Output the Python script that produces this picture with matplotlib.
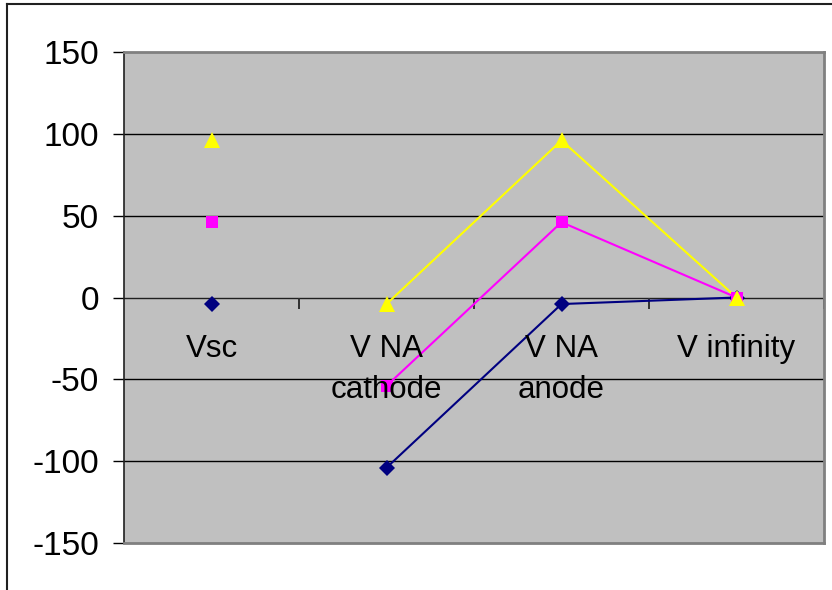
import matplotlib
matplotlib.use("Agg")
import matplotlib.pyplot as plt
from matplotlib.lines import Line2D
from matplotlib.ticker import FuncFormatter

categories = ["Vsc", "V NA\ncathode", "V NA\nanode", "V infinity"]
series_navy = [-4, -104, -4, 0]
series_magenta = [46, -54, 46, 0]
series_yellow = [96, -4, 96, 0]
y_ticks = [-150, -100, -50, 0, 50, 100, 150]

plt.rcParams["font.family"] = ["Liberation Sans", "DejaVu Sans"]

fig = plt.figure(figsize=(8.32, 5.90), dpi=100)
ax = fig.add_axes([124 / 832, 1 - 543 / 590, 700 / 832, 491 / 590])
ax.set_facecolor("#c0c0c0")

x = list(range(len(categories)))

# horizontal gridlines
for v in y_ticks[1:-1]:
    if v != 0:
        ax.axhline(v, color="black", lw=1.0, zorder=1)

# category axis drawn at y = 0
ax.axhline(0, color="#202020", lw=1.0, zorder=1)

styles = [
    (series_navy, "#000080", "D", 8.5),
    (series_magenta, "#ff00ff", "s", 8.5),
    (series_yellow, "#ffff00", "^", 11),
]
for vals, col, mk, ms in styles:
    ax.plot(x[1:], vals[1:], color=col, lw=1.5, zorder=3)
    ax.plot(x, vals, linestyle="none", marker=mk, color=col,
            markersize=ms, markeredgewidth=0, zorder=4)

ax.set_xlim(-0.5, len(categories) - 0.5)
ax.set_ylim(-150, 150)
ax.set_yticks(y_ticks)
ax.yaxis.set_major_formatter(FuncFormatter(lambda v, p: f"{v:.0f}"))
ax.set_xticks([])
ax.tick_params(axis="y", direction="out", length=8, width=1, color="black",
               labelsize=24, pad=10)

# category boundary ticks crossing the zero line
for b in [i + 0.5 for i in x]:
    ax.plot([b, b], [0, 0], marker=3, markersize=8, color="#303030",
            markeredgewidth=1.2, zorder=2, clip_on=False)

# category labels below the zero line
for i, lab in enumerate(categories):
    ax.annotate(lab, xy=(i, 0), xytext=(0, -26), textcoords="offset points",
                ha="center", va="top", fontsize=22.5, linespacing=1.5,
                color="black", zorder=5)

for side in ["top", "right", "bottom"]:
    ax.spines[side].set_color("#808080")
    ax.spines[side].set_linewidth(2)
ax.spines["left"].set_color("#202020")
ax.spines["left"].set_linewidth(1.2)

# outer chart border
fig.add_artist(Line2D([7 / 832, 7 / 832], [0, 1 - 4 / 590],
                      transform=fig.transFigure, color="#202020", lw=1.5))
fig.add_artist(Line2D([7 / 832, 1], [1 - 4 / 590, 1 - 4 / 590],
                      transform=fig.transFigure, color="#202020", lw=1.5))

fig.savefig("out.png", dpi=100, facecolor="white")
